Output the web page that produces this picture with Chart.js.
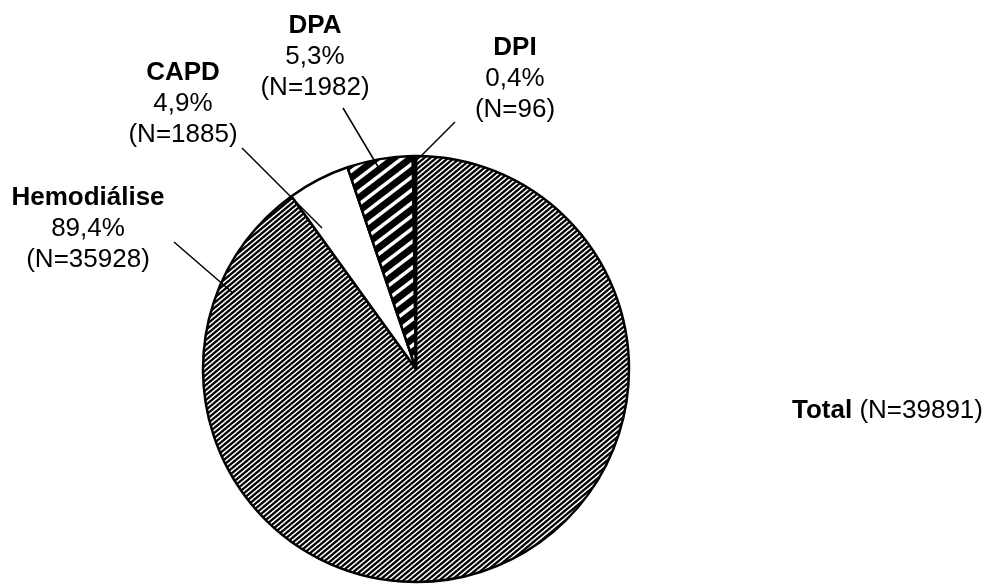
<!DOCTYPE html>
<html>
<head>
<meta charset="utf-8">
<script src="https://cdn.jsdelivr.net/npm/chart.js@4/dist/chart.umd.min.js"></script>
<style>
  body { margin: 0; background: #fff; }
  #wrap { width: 991px; height: 585px; }
</style>
</head>
<body>
<div id="wrap"><canvas id="myChart" width="991" height="585"></canvas></div>
<script>
// data
const categories = ['Hemodiálise', 'CAPD', 'DPA', 'DPI'];
const counts = [35928, 1885, 1982, 96];
const percents = ['89,4%', '4,9%', '5,3%', '0,4%'];
const totalLabel = 'Total';
const totalN = 39891;

const FONT = '"Liberation Sans", Arial, sans-serif';

// diagonal stripe fill, px/py = horizontal/vertical period, duty = dark share
function stripePattern(px, py, duty) {
    const c = document.createElement('canvas');
    c.width = px;
    c.height = py;
    const cx = c.getContext('2d');
    const img = cx.createImageData(px, py);
    for (let y = 0; y < py; y++) {
        for (let x = 0; x < px; x++) {
            let dark = 0;
            for (let sy = 0; sy < 4; sy++) {
                for (let sx = 0; sx < 4; sx++) {
                    const ph = (x + (sx + 0.5) / 4) / px + (y + (sy + 0.5) / 4) / py;
                    if (ph - Math.floor(ph) < duty) dark++;
                }
            }
            const v = Math.round(255 * (1 - dark / 16));
            const i = (y * px + x) * 4;
            img.data[i] = v; img.data[i + 1] = v; img.data[i + 2] = v; img.data[i + 3] = 255;
        }
    }
    cx.putImageData(img, 0, 0);
    return cx.createPattern(c, 'repeat');
}

const fills = [
    stripePattern(6, 5, 0.6),
    '#ffffff',
    stripePattern(17, 13, 0.66),
    '#000000'
];

// label layout: offsets from pie centre (text centre x, first baseline y, leader start, leader end)
const labelLayout = [
    { tx: -328, ty: -164, l0: [-242, -127], l1: [-183, -76] },
    { tx: -233, ty: -289, l0: [-174, -221], l1: [-94, -141] },
    { tx: -101, ty: -336, l0: [-73, -261], l1: [-36, -199] },
    { tx: 99, ty: -314, l0: [39, -247], l1: [4, -212] }
];
const totalPos = { x: 792, y: 418 };

const labelPlugin = {
    id: 'pieLabels',
    afterDraw(chart) {
        const ctx = chart.ctx;
        const arc = chart.getDatasetMeta(0).data[0];
        const cx = arc.x, cy = arc.y;
        ctx.save();
        ctx.fillStyle = '#000';
        ctx.strokeStyle = '#000';
        ctx.lineWidth = 1.5;
        categories.forEach((name, i) => {
            const L = labelLayout[i];
            ctx.beginPath();
            ctx.moveTo(cx + L.l0[0], cy + L.l0[1]);
            ctx.lineTo(cx + L.l1[0], cy + L.l1[1]);
            ctx.stroke();

            ctx.textAlign = 'center';
            ctx.textBaseline = 'alphabetic';
            ctx.font = 'bold 26px ' + FONT;
            ctx.fillText(name, cx + L.tx, cy + L.ty);
            ctx.font = '26px ' + FONT;
            ctx.fillText(percents[i], cx + L.tx, cy + L.ty + 31);
            ctx.fillText('(N=' + counts[i] + ')', cx + L.tx, cy + L.ty + 62);
        });

        ctx.textAlign = 'left';
        ctx.font = 'bold 26px ' + FONT;
        ctx.fillText(totalLabel, totalPos.x, totalPos.y);
        const w = ctx.measureText(totalLabel + ' ').width;
        ctx.font = '26px ' + FONT;
        ctx.fillText('(N=' + totalN + ')', totalPos.x + w, totalPos.y);
        ctx.restore();
    }
};

new Chart(document.getElementById('myChart').getContext('2d'), {
    type: 'pie',
    data: {
        labels: categories,
        datasets: [{
            data: counts,
            backgroundColor: fills,
            borderColor: '#000',
            borderWidth: 2.5
        }]
    },
    options: {
        responsive: false,
        animation: false,
        radius: 213,
        layout: { padding: { left: 0, right: 159, top: 153, bottom: 0 } },
        plugins: {
            legend: { display: false },
            tooltip: { enabled: false }
        }
    },
    plugins: [labelPlugin]
});
</script>
</body>
</html>
